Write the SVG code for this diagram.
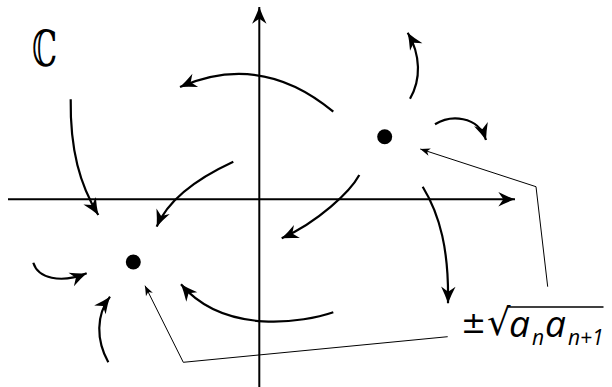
<svg xmlns="http://www.w3.org/2000/svg" width="612" height="387" viewBox="0 0 612 387">
<style>
.ax{stroke:#000;stroke-width:2;fill:none}
.fl{stroke:#000;stroke-width:2.2;fill:none}
.pt{stroke:#000;stroke-width:1;fill:none}
.lbl{font-family:"Open Sans","Noto Sans","DejaVu Sans",sans-serif;fill:#000}
.sym{font-family:"DejaVu Sans",sans-serif;font-style:normal}
</style>
<defs>
<marker id="ah" markerUnits="userSpaceOnUse" markerWidth="20" markerHeight="20" viewBox="-16 -8 18 16" refX="0" refY="0" orient="auto" overflow="visible">
<path d="M0,0 Q-7,-2.5 -15,-6.5 L-10.5,0 L-15,6.5 Q-7,2.5 0,0 Z" fill="#000"/>
</marker>
<marker id="sh" markerUnits="userSpaceOnUse" markerWidth="12" markerHeight="12" viewBox="-10 -5 11 10" refX="0" refY="0" orient="auto" overflow="visible">
<path d="M0,0 L-9,-3.5 L-6.5,0 L-9,3.5 Z" fill="#000"/>
</marker>
</defs>
<g id="axes">
<line class="ax" x1="8" y1="199.3" x2="515" y2="199.3" marker-end="url(#ah)"/>
<line class="ax" x1="259.3" y1="387" x2="259.3" y2="7" marker-end="url(#ah)"/>
</g>
<g id="connectors">
<path class="fl" d="M333.3,111.7 Q261,51.7 180,87" marker-end="url(#ah)"/>
<path class="fl" d="M233.3,161.7 Q172,190 156.7,226.7" marker-end="url(#ah)"/>
<path class="fl" d="M359.3,175 C350,192 318,222 281.7,238.3" marker-end="url(#ah)"/>
<path class="fl" d="M333.3,312.3 C305,322 225,336 181,284.3" marker-end="url(#ah)"/>
<path class="fl" d="M70.7,99.3 C70,150 80,185 98.3,215" marker-end="url(#ah)"/>
<path class="fl" d="M33.3,262.7 C38,278 60,284 86.7,273.3" marker-end="url(#ah)"/>
<path class="fl" d="M108.3,362.3 C96,340 96,315 110,296.7" marker-end="url(#ah)"/>
<path class="fl" d="M410,98.7 C421,80 421,55 407.7,32.7" marker-end="url(#ah)"/>
<path class="fl" d="M435,124.3 C450,115 478,115 486,140" marker-end="url(#ah)"/>
<path class="fl" d="M422.7,186.7 C440,215 449,250 448,303.3" marker-end="url(#ah)"/>
<polyline class="pt" points="447.7,336.7 183.3,362.3 145,285.7" marker-end="url(#sh)"/>
<polyline class="pt" points="547.7,286.7 536,186.7 420.3,149" marker-end="url(#sh)"/>
</g>
<g id="zero1"><circle cx="384.7" cy="136.7" r="7.5" fill="#000"/></g>
<g id="zero2"><circle cx="133.3" cy="262" r="7.5" fill="#000"/></g>
<g id="plane-label">
<text x="32" y="66" font-family="DejaVu Serif, DejaVu Sans, serif" font-size="50" textLength="25" lengthAdjust="spacingAndGlyphs">ℂ</text>
</g>
<g id="root-label">
<line x1="508" y1="307" x2="603.5" y2="307" stroke="#000" stroke-width="1.6"/>
<text class="lbl" y="336.7" font-size="37" font-style="italic"><tspan class="sym" x="461" y="333" font-size="30">±</tspan><tspan class="sym" x="487" y="335" font-size="37">√</tspan><tspan x="509" y="336.7">a</tspan><tspan x="532" y="345" font-size="21">n</tspan><tspan x="545" y="336.7">a</tspan><tspan x="568" y="345" font-size="21">n+1</tspan></text>
</g>
</svg>
